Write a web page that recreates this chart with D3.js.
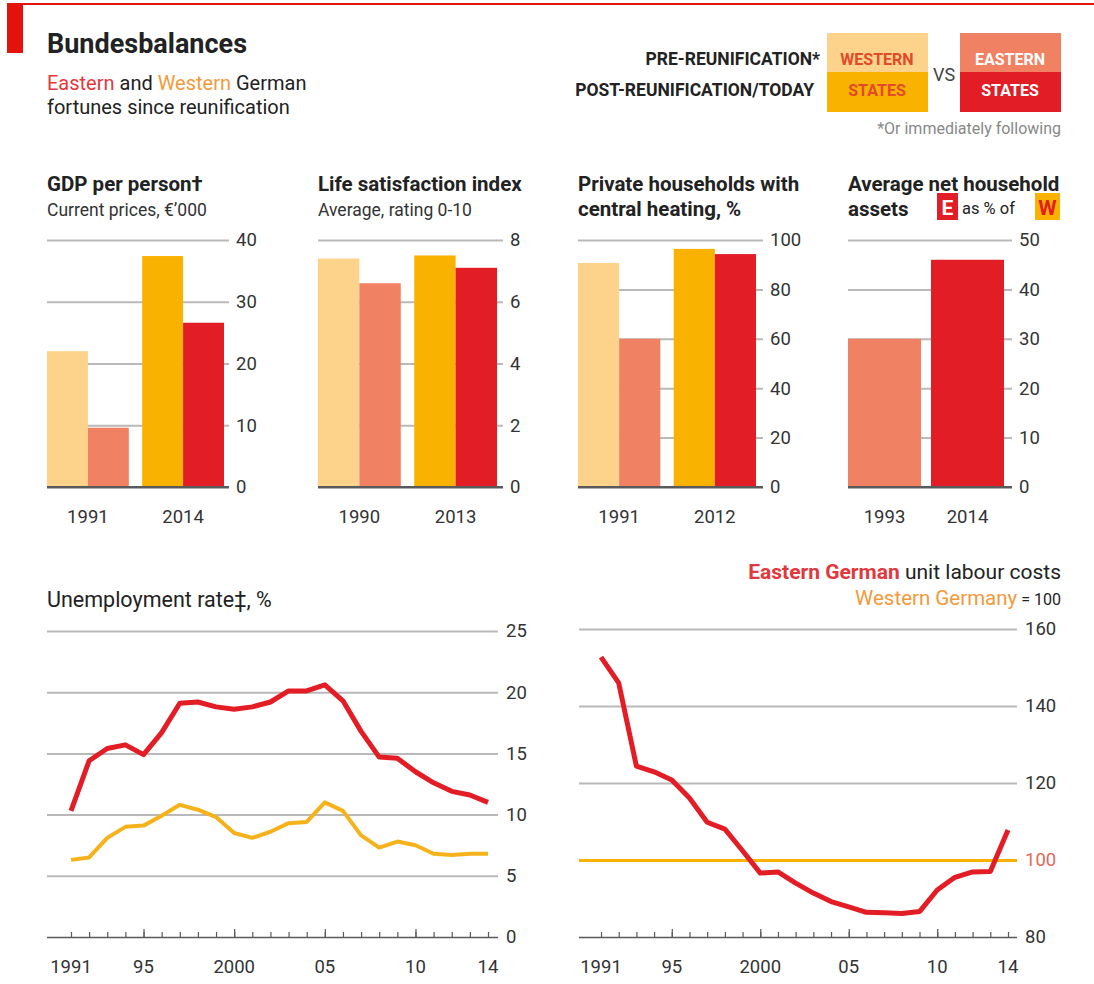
<!DOCTYPE html>
<meta charset="utf-8">
<script src="https://cdnjs.cloudflare.com/ajax/libs/d3/7.8.5/d3.min.js"></script>
<style>
  body { margin: 0; background: #fff; }
  text { font-family: Roboto, "Noto Sans", sans-serif; fill: #222; }
</style>
<body>
<div id="chart"></div>
<script>
// ---- data ----
var gdpYears = ["1991", "2014"];
var gdpWest = [22.0, 37.4];
var gdpEast = [9.6, 26.6];
var gdpTicks = [0, 10, 20, 30, 40];

var lifeYears = ["1990", "2013"];
var lifeWest = [7.4, 7.5];
var lifeEast = [6.6, 7.1];
var lifeTicks = [0, 2, 4, 6, 8];

var heatYears = ["1991", "2012"];
var heatWest = [90.7, 96.4];
var heatEast = [60, 94.3];
var heatTicks = [0, 20, 40, 60, 80, 100];

var assetYears = ["1993", "2014"];
var assetEast = [30, 46];
var assetTicks = [0, 10, 20, 30, 40, 50];

var years = [1991, 1992, 1993, 1994, 1995, 1996, 1997, 1998, 1999, 2000, 2001, 2002,
             2003, 2004, 2005, 2006, 2007, 2008, 2009, 2010, 2011, 2012, 2013, 2014];
var yearTickVals = [1991, 1995, 2000, 2005, 2010, 2014];
var yearTickLabels = ["1991", "95", "2000", "05", "10", "14"];
var majorYears = [1995, 2000, 2005, 2010];

var unempEast = [10.3, 14.4, 15.4, 15.7, 14.9, 16.7, 19.1, 19.2, 18.8, 18.6, 18.8, 19.2,
                 20.1, 20.1, 20.6, 19.3, 16.8, 14.7, 14.6, 13.5, 12.6, 11.9, 11.6, 11.0];
var unempWest = [6.3, 6.5, 8.1, 9.0, 9.1, 9.9, 10.8, 10.4, 9.8, 8.5, 8.1, 8.6,
                 9.3, 9.4, 11.0, 10.3, 8.3, 7.3, 7.8, 7.5, 6.8, 6.7, 6.8, 6.8];
var unempTicks = [0, 5, 10, 15, 20, 25];

var ulcEast = [152.7, 146, 124.4, 122.9, 120.8, 116.1, 109.8, 108, 102.4, 96.6, 96.9, 94,
               91.4, 89.2, 87.8, 86.4, 86.3, 86.1, 86.6, 92.2, 95.5, 96.9, 97, 107.8];
var ulcWest = 100;
var ulcTicks = [80, 100, 120, 140, 160];

// ---- colours ----
var PRE_W = "#fdd38b", PRE_E = "#f08162", POST_W = "#f9b200", POST_E = "#e31d25";
var GRID = "#b9b9b9", AXIS = "#5a5a5a";
var TICK_FS = "18.5px";

var svg = d3.select("#chart").append("svg")
  .attr("width", 1094)
  .attr("height", 984);

// top rule and red tag
svg.append("rect").attr("x", 23).attr("y", 3).attr("width", 1071).attr("height", 2).attr("fill", "#e3120b");
svg.append("rect").attr("x", 7).attr("y", 3).attr("width", 16).attr("height", 50).attr("fill", "#e3120b");

svg.append("text").attr("x", 47).attr("y", 53)
  .style("font-size", "27px").style("font-weight", "700").text("Bundesbalances");

var sub = svg.append("text").attr("x", 47).attr("y", 90).style("font-size", "20px");
sub.append("tspan").style("fill", "#e2383d").text("Eastern");
sub.append("tspan").text(" and ");
sub.append("tspan").style("fill", "#f29a3b").text("Western");
sub.append("tspan").text(" German");
svg.append("text").attr("x", 47).attr("y", 114).style("font-size", "20px").text("fortunes since reunification");

// legend
svg.append("text").attr("x", 820).attr("y", 65).attr("text-anchor", "end")
  .style("font-size", "17.5px").style("font-weight", "700").text("PRE-REUNIFICATION*");
svg.append("text").attr("x", 814).attr("y", 96).attr("text-anchor", "end")
  .style("font-size", "17.5px").style("font-weight", "700").text("POST-REUNIFICATION/TODAY");

var legendBoxes = [
  {x: 827, top: PRE_W, bot: POST_W, t1: "WESTERN", t2: "STATES", tc: "#e24a2a"},
  {x: 960, top: PRE_E, bot: POST_E, t1: "EASTERN", t2: "STATES", tc: "#fff"}
];
legendBoxes.forEach(function(b) {
  svg.append("rect").attr("x", b.x).attr("y", 33).attr("width", 101).attr("height", 39).attr("fill", b.top);
  svg.append("rect").attr("x", b.x).attr("y", 72).attr("width", 101).attr("height", 40).attr("fill", b.bot);
  svg.append("text").attr("x", b.x + 50).attr("y", 65).attr("text-anchor", "middle")
    .style("font-size", "16px").style("font-weight", "700").style("fill", b.tc).text(b.t1);
  svg.append("text").attr("x", b.x + 50).attr("y", 96).attr("text-anchor", "middle")
    .style("font-size", "16px").style("font-weight", "700").style("fill", b.tc).text(b.t2);
});
svg.append("text").attr("x", 944).attr("y", 81).attr("text-anchor", "middle")
  .style("font-size", "18px").style("fill", "#444").text("VS");
svg.append("text").attr("x", 1061).attr("y", 134).attr("text-anchor", "end")
  .style("font-size", "16px").style("fill", "#888").text("*Or immediately following");

// ---- bar panels ----
function barPanel(cfg) {
  var g = svg.append("g");
  var y = d3.scaleLinear().domain([0, d3.max(cfg.ticks)]).range([487, 240]);

  cfg.title.forEach(function(t, i) {
    g.append("text").attr("x", cfg.left).attr("y", 191 + i * 25)
      .style("font-size", "20.5px").style("font-weight", "700").text(t);
  });
  if (cfg.sub) {
    g.append("text").attr("x", cfg.left).attr("y", 216)
      .style("font-size", "17.5px").style("fill", "#333").text(cfg.sub);
  }

  var axis = d3.axisRight(y).tickValues(cfg.ticks)
    .tickSize(-(cfg.gridEnd - cfg.left)).tickPadding(7);
  var ag = g.append("g").attr("transform", "translate(" + cfg.gridEnd + ",0)").call(axis);
  ag.select(".domain").remove();
  ag.selectAll(".tick line").attr("stroke", function(d) { return d === 0 ? AXIS : GRID; })
    .attr("stroke-width", 2);
  ag.selectAll(".tick text").attr("x", 7).style("font-size", TICK_FS).style("fill", "#333")
    .style("font-family", "Roboto, sans-serif");

  var x0 = d3.scaleBand().domain(cfg.years).range([cfg.left, cfg.right]).paddingInner(cfg.gap);
  var keys = cfg.series.map(function(s) { return s.key; });
  var x1 = d3.scaleBand().domain(keys).range([0, x0.bandwidth()]);

  cfg.series.forEach(function(s) {
    g.selectAll(null).data(s.values).enter().append("rect")
      .attr("x", function(d, i) { return x0(cfg.years[i]) + x1(s.key); })
      .attr("width", x1.bandwidth())
      .attr("y", function(d) { return y(d); })
      .attr("height", function(d) { return y(0) - y(d); })
      .attr("fill", function(d, i) { return s.colors[i]; });
  });
  // redraw zero line on top
  g.append("line").attr("x1", cfg.left).attr("x2", cfg.gridEnd)
    .attr("y1", y(0)).attr("y2", y(0)).attr("stroke", AXIS).attr("stroke-width", 2);

  g.selectAll(null).data(cfg.years).enter().append("text")
    .attr("x", function(d) { return x0(d) + x0.bandwidth() / 2; })
    .attr("y", 523).attr("text-anchor", "middle")
    .style("font-size", TICK_FS).style("fill", "#333").text(function(d) { return d; });
  return g;
}

barPanel({left: 47, right: 224, gridEnd: 229, gap: 0.14, ticks: gdpTicks, years: gdpYears,
  title: ["GDP per person\u2020"], sub: "Current prices, \u20ac\u2019000",
  series: [{key: "w", values: gdpWest, colors: [PRE_W, POST_W]},
           {key: "e", values: gdpEast, colors: [PRE_E, POST_E]}]});

barPanel({left: 318, right: 497, gridEnd: 503, gap: 0.14, ticks: lifeTicks, years: lifeYears,
  title: ["Life satisfaction index"], sub: "Average, rating 0-10",
  series: [{key: "w", values: lifeWest, colors: [PRE_W, POST_W]},
           {key: "e", values: lifeEast, colors: [PRE_E, POST_E]}]});

barPanel({left: 578, right: 756, gridEnd: 763, gap: 0.14, ticks: heatTicks, years: heatYears,
  title: ["Private households with", "central heating, %"],
  series: [{key: "w", values: heatWest, colors: [PRE_W, POST_W]},
           {key: "e", values: heatEast, colors: [PRE_E, POST_E]}]});

var p4 = barPanel({left: 848, right: 1004, gridEnd: 1012, gap: 0.12, ticks: assetTicks, years: assetYears,
  title: ["Average net household", "assets"],
  series: [{key: "e", values: assetEast, colors: [PRE_E, POST_E]}]});
p4.append("rect").attr("x", 937).attr("y", 193).attr("width", 21).attr("height", 27).attr("fill", POST_E);
p4.append("text").attr("x", 947.5).attr("y", 215).attr("text-anchor", "middle")
  .style("font-size", "21px").style("font-weight", "700").style("fill", "#fff").text("E");
p4.append("text").attr("x", 962).attr("y", 214).style("font-size", "16.5px").text("as % of");
p4.append("rect").attr("x", 1035).attr("y", 193).attr("width", 25).attr("height", 27).attr("fill", POST_W);
p4.append("text").attr("x", 1047.5).attr("y", 215).attr("text-anchor", "middle")
  .style("font-size", "21px").style("font-weight", "700").style("fill", "#e31d25").text("W");

// ---- line panels ----
function linePanel(cfg) {
  var g = svg.append("g");
  var x = d3.scaleLinear().domain([years[0], years[years.length - 1]]).range([cfg.x0, cfg.x1]);
  var y = d3.scaleLinear().domain([cfg.ticks[0], cfg.ticks[cfg.ticks.length - 1]]).range([937, cfg.yTop]);

  var axis = d3.axisRight(y).tickValues(cfg.ticks)
    .tickSize(-(cfg.gridEnd - cfg.left)).tickPadding(8);
  var ag = g.append("g").attr("transform", "translate(" + cfg.gridEnd + ",0)").call(axis);
  ag.select(".domain").remove();
  ag.selectAll(".tick line")
    .attr("stroke", function(d, i) { return i === 0 ? AXIS : GRID; })
    .attr("stroke-width", function(d, i) { return i === 0 ? 1.5 : 2; });
  ag.selectAll(".tick text").attr("x", 8).style("font-size", TICK_FS).style("fill", "#333")
    .style("font-family", "Roboto, sans-serif");

  // year ticks
  var minor = d3.axisBottom(x).tickValues(years).tickSize(-5).tickFormat("");
  var mg = g.append("g").attr("transform", "translate(0,937)").call(minor);
  mg.select(".domain").remove();
  mg.selectAll(".tick line").attr("stroke", AXIS).attr("stroke-width", 1.2);
  var major = d3.axisBottom(x).tickValues(majorYears).tickSize(-8).tickFormat("");
  var jg = g.append("g").attr("transform", "translate(0,937)").call(major);
  jg.select(".domain").remove();
  jg.selectAll(".tick line").attr("stroke", AXIS).attr("stroke-width", 1.2);

  g.selectAll(null).data(yearTickVals).enter().append("text")
    .attr("x", function(d) { return x(d); }).attr("y", 973).attr("text-anchor", "middle")
    .style("font-size", TICK_FS).style("fill", "#333")
    .text(function(d, i) { return yearTickLabels[i]; });

  return {g: g, x: x, y: y};
}

// Unemployment
var u = linePanel({left: 47, gridEnd: 498, x0: 71, x1: 488, yTop: 631, ticks: unempTicks});
svg.append("text").attr("x", 47).attr("y", 607).style("font-size", "21.5px").text("Unemployment rate\u2021, %");
var lineU = d3.line().x(function(d, i) { return u.x(years[i]); }).y(function(d) { return u.y(d); });
u.g.append("path").datum(unempWest).attr("d", lineU).attr("fill", "none")
  .attr("stroke", "#f6b21b").attr("stroke-width", 4).attr("stroke-linejoin", "round");
u.g.append("path").datum(unempEast).attr("d", lineU).attr("fill", "none")
  .attr("stroke", POST_E).attr("stroke-width", 5).attr("stroke-linejoin", "round");

// Unit labour costs
var c = linePanel({left: 579, gridEnd: 1017, x0: 601, x1: 1008, yTop: 629, ticks: ulcTicks});
c.g.selectAll(".tick").filter(function(d) { return d === ulcWest; }).select("line")
  .attr("stroke", "#f9b200").attr("stroke-width", 3);
c.g.selectAll(".tick").filter(function(d) { return d === ulcWest; }).select("text")
  .style("fill", "#e4675a");
var lineC = d3.line().x(function(d, i) { return c.x(years[i]); }).y(function(d) { return c.y(d); });
c.g.append("path").datum(ulcEast).attr("d", lineC).attr("fill", "none")
  .attr("stroke", POST_E).attr("stroke-width", 5).attr("stroke-linejoin", "round");

var t1 = svg.append("text").attr("x", 1061).attr("y", 579).attr("text-anchor", "end").style("font-size", "21px");
t1.append("tspan").style("fill", "#e2383d").style("font-weight", "700").text("Eastern German");
t1.append("tspan").text(" unit labour costs");
var t2 = svg.append("text").attr("x", 1061).attr("y", 605).attr("text-anchor", "end").style("font-size", "20.5px");
t2.append("tspan").style("fill", "#f29a3b").text("Western Germany");
t2.append("tspan").style("font-size", "16px").text(" = 100");
</script>
</body>
